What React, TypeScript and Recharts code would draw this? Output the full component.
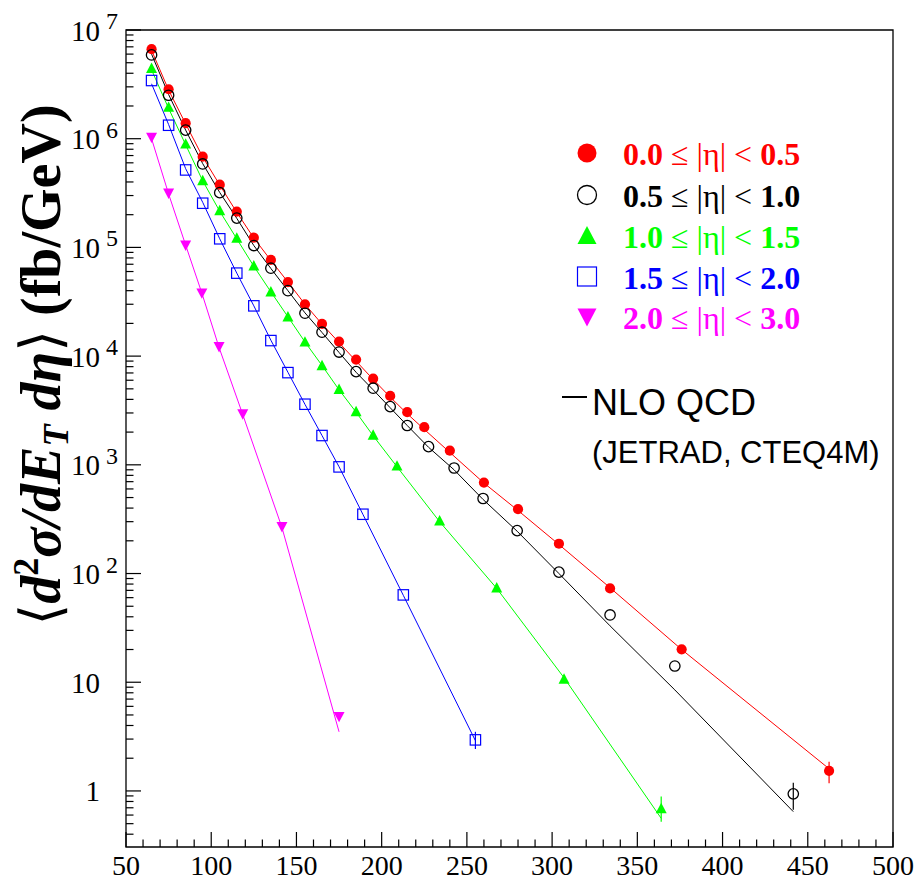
import React from "react";
import { ScatterChart, Scatter, XAxis, YAxis, ErrorBar, ReferenceArea } from "recharts";

// E_T bin centres (GeV), measured cross sections (fb/GeV) and NLO curve, per |eta| bin
const ET_A = [65, 75, 85, 95, 105, 115, 125, 135, 145, 155, 165, 175, 185, 195, 205, 215, 225, 240, 260, 280, 304, 334, 376, 462.5];
const SIG_A = [6.66e6, 2.85e6, 1.39e6, 6.84e5, 3.78e5, 2.13e5, 1.23e5, 7.67e4, 4.8e4, 3.0e4, 1.98e4, 1.36e4, 9.3e3, 6.2e3, 4.3e3, 3.05e3, 2.22e3, 1.35e3, 686, 391, 188, 73, 20.1, 1.53];
const NLO_A = [6.5e6, 2.8e6, 1.37e6, 6.8e5, 3.75e5, 2.1e5, 1.22e5, 7.6e4, 4.8e4, 3.0e4, 1.97e4, 1.33e4, 9.0e3, 6.1e3, 4.2e3, 2.95e3, 2.12e3, 1.3e3, 680, 380, 185, 74, 20, 1.6];

const ET_B = [65, 75, 85, 95, 105, 115, 125, 135, 145, 155, 165, 175, 185, 195, 205, 215, 227.5, 242.5, 259.5, 279.5, 304, 334, 372, 441.5];
const SIG_B = [5.9e6, 2.51e6, 1.2e6, 5.86e5, 3.19e5, 1.86e5, 1.04e5, 6.44e4, 4.0e4, 2.48e4, 1.66e4, 1.09e4, 7.2e3, 5.07e3, 3.43e3, 2.3e3, 1.47e3, 935, 490, 248, 103, 41.6, 14.1, 0.94];
const NLO_B = [6.0e6, 2.55e6, 1.2e6, 5.9e5, 3.2e5, 1.85e5, 1.04e5, 6.4e4, 4.0e4, 2.5e4, 1.65e4, 1.08e4, 7.1e3, 4.9e3, 3.35e3, 2.3e3, 1.45e3, 900, 480, 245, 100, 33, 8.5, 0.645];

const ET_C = [65, 75, 85, 95, 105, 115, 125, 135, 145, 155, 165, 175, 185, 195, 209, 234, 267.5, 307, 364];
const SIG_C = [4.45e6, 1.95e6, 8.95e5, 4.12e5, 2.18e5, 1.22e5, 6.76e4, 3.9e4, 2.3e4, 1.35e4, 8.2e3, 4.96e3, 3.09e3, 1.88e3, 977, 305, 74, 10.7, 0.69];
const NLO_C = [4.3e6, 1.9e6, 8.8e5, 4.1e5, 2.15e5, 1.2e5, 6.7e4, 3.9e4, 2.3e4, 1.35e4, 8.2e3, 4.9e3, 3.05e3, 1.85e3, 960, 300, 73, 11, 0.56];

const ET_D = [65, 75, 85, 95, 105, 115, 125, 135, 145, 155, 165, 175, 189, 212.7, 255];
const SIG_D = [3.43e6, 1.33e6, 5.16e5, 2.55e5, 1.2e5, 5.8e4, 2.9e4, 1.39e4, 7.05e3, 3.61e3, 1.86e3, 957, 351, 63.6, 2.95];
const NLO_D = [3.2e6, 1.35e6, 5.3e5, 2.6e5, 1.2e5, 5.8e4, 2.9e4, 1.4e4, 7.1e3, 3.6e3, 1.86e3, 960, 350, 63, 2.9];

const ET_E = [65, 75, 85, 94.5, 104.6, 118.5, 141.5, 175];
const SIG_E = [1.03e6, 3.15e5, 1.05e5, 3.8e4, 1.22e4, 2.94e3, 270, 4.83];
const NLO_E = [1.0e6, 3.1e5, 1.05e5, 3.8e4, 1.2e4, 2.9e3, 265, 3.5];

// error band on the last point of each bin (low, high), null = hidden by marker
const LAST_LO = [1.18, 0.67, 0.52, 2.43, null];
const LAST_HI = [1.86, 1.19, 0.89, 3.5, null];

const ETA_LO = ["0.0", "0.5", "1.0", "1.5", "2.0"];
const ETA_HI = ["0.5", "1.0", "1.5", "2.0", "3.0"];
const COLORS = ["#ff0000", "#000000", "#00ff00", "#0000ff", "#ff00ff"];

const X_MAJOR = [50, 100, 150, 200, 250, 300, 350, 400, 450, 500];
const Y_MAJOR = [1, 10, 1e2, 1e3, 1e4, 1e5, 1e6, 1e7];
const Y_MIN = 0.305;

const W = 916;
const H = 881;
const LEFT = 126;
const TOP = 30;
const RIGHT = 893;
const BOTTOM = 847;
const SERIF = "'Liberation Serif', 'Times New Roman', serif";
const SANS = "'Liberation Sans', Arial, sans-serif";

const xTicks: number[] = [];
for (let v = 50; v <= 500; v += 10) xTicks.push(v);
const yTicks: number[] = [];
[0.1, ...Y_MAJOR.slice(0, -1)].forEach((d) => {
  for (let m = 1; m < 10; m++) {
    const v = +(d * m).toPrecision(3);
    if (v >= Y_MIN) yTicks.push(v);
  }
});
yTicks.push(1e7);

const sets = [
  [ET_A, SIG_A, NLO_A],
  [ET_B, SIG_B, NLO_B],
  [ET_C, SIG_C, NLO_C],
  [ET_D, SIG_D, NLO_D],
  [ET_E, SIG_E, NLO_E],
];

const pointRows = sets.map(([et, sig], k) =>
  et.map((x, i) => {
    const last = i === et.length - 1 && LAST_LO[k] != null;
    return {
      x,
      y: sig[i],
      err: last ? [sig[i] - (LAST_LO[k] as number), (LAST_HI[k] as number) - sig[i]] : undefined,
    };
  })
);
const nloRows = sets.map(([et, , nlo]) => et.map((x, i) => ({ x, y: nlo[i] })));

const marker = (k: number, cx: number, cy: number, s: number) => {
  const c = COLORS[k];
  const r = s / 2;
  switch (k) {
    case 0:
      return <circle cx={cx} cy={cy} r={r} fill={c} />;
    case 1:
      return <circle cx={cx} cy={cy} r={r} fill="none" stroke={c} strokeWidth={1.3} />;
    case 2:
      return <polygon points={`${cx - r},${cy + r * 0.85} ${cx + r},${cy + r * 0.85} ${cx},${cy - r * 1.05}`} fill={c} />;
    case 3:
      return <rect x={cx - r} y={cy - r} width={s} height={s} fill="none" stroke={c} strokeWidth={1.2} />;
    default:
      return <polygon points={`${cx - r},${cy - r * 0.85} ${cx + r},${cy - r * 0.85} ${cx},${cy + r * 1.05}`} fill={c} />;
  }
};

const YTick = (props: any) => {
  const { y, payload } = props;
  const v = payload.value;
  const e = Math.round(Math.log10(v));
  const major = Math.abs(v - Math.pow(10, e)) < 1e-6 * v;
  return (
    <g>
      <line x1={LEFT} x2={LEFT + (major ? 15 : 7.5)} y1={y} y2={y} stroke="#000" strokeWidth={1.2} />
      {major && (
        <text x={100} y={y + 10.5} textAnchor="end" fontFamily={SERIF} fontSize={29} fill="#000">
          {e <= 0 ? "1" : "10"}
        </text>
      )}
      {major && e >= 2 && (
        <text x={106} y={y - 1} fontFamily={SERIF} fontSize={24} fill="#000">
          {e}
        </text>
      )}
    </g>
  );
};

const XTick = (props: any) => {
  const { x, payload } = props;
  const v = payload.value;
  const major = X_MAJOR.includes(v);
  return (
    <g>
      <line x1={x} x2={x} y1={BOTTOM} y2={BOTTOM - (major ? 15 : 7.5)} stroke="#000" strokeWidth={1.2} />
      {major && (
        <text x={x} y={875} textAnchor="middle" fontFamily={SERIF} fontSize={28} fill="#000">
          {v}
        </text>
      )}
    </g>
  );
};

const LEGEND_Y = [153, 195, 236, 276.5, 316.5];

export default function App() {
  return (
    <div style={{ position: "absolute", left: 0, top: 0, width: W, height: H, background: "#fff" }}>
      <ScatterChart
        width={W}
        height={H}
        margin={{ top: TOP, right: W - RIGHT, bottom: 0, left: 0 }}
      >
        <XAxis
          type="number"
          dataKey="x"
          domain={[50, 500]}
          ticks={xTicks}
          interval={0}
          allowDataOverflow
          height={H - BOTTOM}
          axisLine={false}
          tickLine={false}
          tick={(p: any) => <XTick {...p} />}
        />
        <YAxis
          type="number"
          dataKey="y"
          scale="log"
          domain={[Y_MIN, 1e7]}
          ticks={yTicks}
          interval={0}
          allowDataOverflow
          width={LEFT}
          axisLine={false}
          tickLine={false}
          tick={(p: any) => <YTick {...p} />}
        />
        <ReferenceArea
          x1={50}
          x2={500}
          y1={Y_MIN}
          y2={1e7}
          fill="none"
          stroke="#000"
          strokeWidth={1.3}
          ifOverflow="visible"
        />
        {nloRows.map((rows, k) => (
          <Scatter
            key={`nlo-${k}`}
            data={rows}
            fill={COLORS[k]}
            line={{ stroke: COLORS[k], strokeWidth: 1 }}
            lineType="joint"
            shape={() => <g />}
            isAnimationActive={false}
          />
        ))}
        {pointRows.map((rows, k) => (
          <Scatter
            key={`pts-${k}`}
            data={rows}
            fill={COLORS[k]}
            shape={(p: any) => marker(k, p.cx, p.cy, k === 0 ? 10.2 : k === 2 || k === 4 ? 11 : 10.4)}
            isAnimationActive={false}
          >
            <ErrorBar dataKey="err" direction="y" width={0} stroke={COLORS[k]} strokeWidth={1.2} />
          </Scatter>
        ))}
      </ScatterChart>

      <svg width={W} height={H} style={{ position: "absolute", left: 0, top: 0, pointerEvents: "none" }}>
        <text
          transform="rotate(-90)"
          x={-365}
          y={60}
          textAnchor="middle"
          fontFamily={SERIF}
          fontWeight="bold"
          fontSize={56}
          fill="#000"
        >
          <tspan fontFamily="'DejaVu Serif', serif" fontWeight="normal">⟨</tspan>
          <tspan fontStyle="italic">d</tspan>
          <tspan fontSize={36} dy={-22}>2</tspan>
          <tspan fontStyle="italic" dy={22}>σ/dE</tspan>
          <tspan fontStyle="italic" fontSize={36} dy={8}>T</tspan>
          <tspan fontStyle="italic" dy={-8}>{" dη"}</tspan>
          <tspan fontFamily="'DejaVu Serif', serif" fontWeight="normal">⟩</tspan>
          <tspan>{" (fb/GeV)"}</tspan>
        </text>

        {LEGEND_Y.map((cy, k) => (
          <g key={k}>
            {marker(k, 587, cy, 19)}
            <text x={623} y={cy + 12} fontFamily={SERIF} fontSize={32} fill={COLORS[k]}>
              <tspan fontWeight="bold">{ETA_LO[k]}</tspan>
              {" ≤ |η| < "}
              <tspan fontWeight="bold">{ETA_HI[k]}</tspan>
            </text>
          </g>
        ))}

        <line x1={562} x2={587} y1={397} y2={397} stroke="#000" strokeWidth={2} />
        <text x={592} y={415} fontFamily={SANS} fontSize={36} fill="#000">
          NLO QCD
        </text>
        <text x={592} y={463} fontFamily={SANS} fontSize={31} fill="#000">
          (JETRAD, CTEQ4M)
        </text>
      </svg>
    </div>
  );
}
